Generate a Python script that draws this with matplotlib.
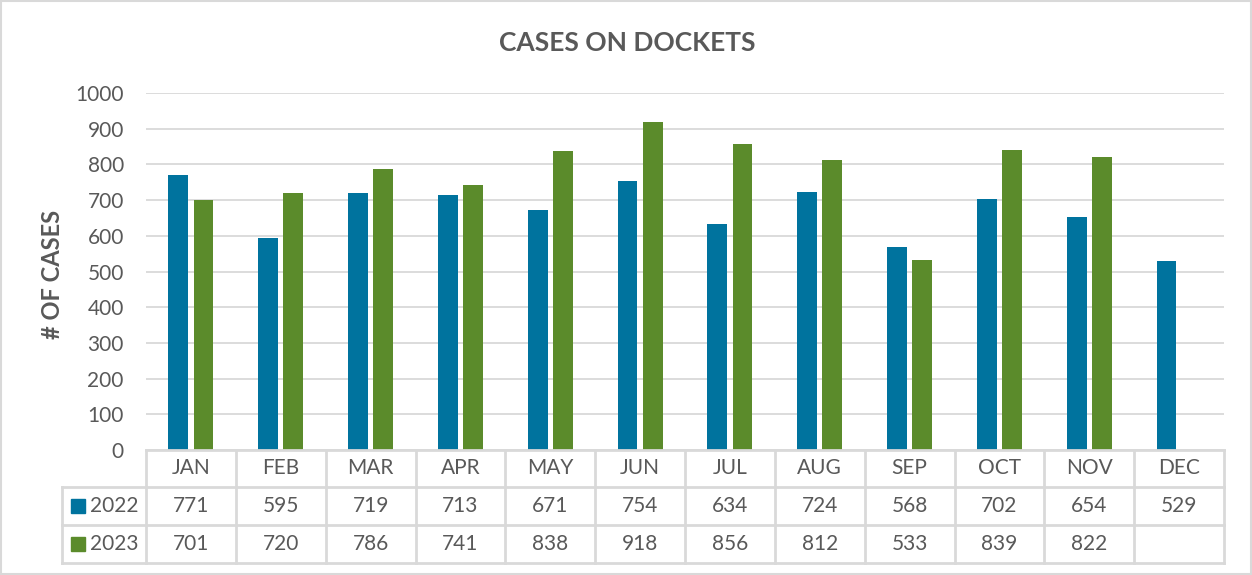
import numpy as np
import matplotlib
matplotlib.use('Agg')
from matplotlib import pyplot as plt
from matplotlib import patches, transforms

####
# Data
####
months = ['JAN', 'FEB', 'MAR', 'APR', 'MAY', 'JUN', 'JUL', 'AUG', 'SEP', 'OCT', 'NOV', 'DEC']
cases_2022 = [771, 595, 719, 713, 671, 754, 634, 724, 568, 702, 654, 529]
cases_2023 = [701, 720, 786, 741, 838, 918, 856, 812, 533, 839, 822, None]
series_names = ['2022', '2023']
yticks = [0, 100, 200, 300, 400, 500, 600, 700, 800, 900, 1000]

blue = '#00739E'
green = '#5B8B2B'
txt = '#595959'
grid_c = '#D9D9D9'

plt.rcParams['font.family'] = ['Lato', 'DejaVu Sans']

W, H = 1252, 575
fig = plt.figure(figsize=(W / 100, H / 100), dpi=100)

def fx(px):
    return px / W

def fy(py):
    return 1 - py / H

left, right, top, bottom = 146, 1224, 93, 450
ax = fig.add_axes([fx(left), fy(bottom), fx(right - left), fy(top) - fy(bottom)])

x = np.arange(len(months))
w = 0.22
v23 = np.array([np.nan if v is None else v for v in cases_2023], dtype=float)
ax.bar(x - 0.14, cases_2022, width=w, color=blue, zorder=3)
ax.bar(x + 0.14, v23, width=w, color=green, zorder=3)

ax.set_xlim(-0.5, len(months) - 0.5)
ax.set_ylim(0, 1000)
ax.set_yticks(yticks)
ax.set_yticklabels([str(t) for t in yticks], fontsize=15, color=txt)
ax.tick_params(axis='y', length=0, pad=16)
ax.set_xticks([])
ax.grid(axis='y', color=grid_c, linewidth=1.3, zorder=0)
for s in ax.spines.values():
    s.set_visible(False)

fig.text(fx(627), fy(43), 'CASES ON DOCKETS', ha='center', va='center',
         fontsize=19, fontweight='bold', color=txt)
fig.text(fx(52), fy(274), '# OF CASES', ha='center', va='center', rotation=90,
         fontsize=17, fontweight='bold', color=txt)

####
# Data table under the axis
####
row_y = [450, 487, 525, 563]
tab_left = 62
lw = 2
line_kw = dict(color=grid_c, linewidth=lw, transform=fig.transFigure, clip_on=False)
fig.add_artist(plt.Line2D([fx(left), fx(right)], [fy(row_y[0])] * 2, **line_kw))
for ry in row_y[1:]:
    fig.add_artist(plt.Line2D([fx(tab_left), fx(right)], [fy(ry)] * 2, **line_kw))
fig.add_artist(plt.Line2D([fx(tab_left)] * 2, [fy(row_y[1]), fy(row_y[3])], **line_kw))
col_w = (right - left) / len(months)
for i in range(len(months) + 1):
    cx = left + i * col_w
    fig.add_artist(plt.Line2D([fx(cx)] * 2, [fy(row_y[0]), fy(row_y[3])], **line_kw))

blend = transforms.blended_transform_factory(ax.transData, fig.transFigure)
rows = [cases_2022, cases_2023]
for i, m in enumerate(months):
    ax.text(i, fy((row_y[0] + row_y[1]) / 2), m, transform=blend, ha='center', va='center',
            fontsize=15, color=txt, clip_on=False)
    for r, vals in enumerate(rows):
        if vals[i] is None:
            continue
        ax.text(i, fy((row_y[r + 1] + row_y[r + 2]) / 2), str(vals[i]), transform=blend,
                ha='center', va='center', fontsize=15, color=txt, clip_on=False)

for r, (name, col) in enumerate(zip(series_names, [blue, green])):
    cy = (row_y[r + 1] + row_y[r + 2]) / 2
    fig.add_artist(patches.Rectangle((fx(71), fy(cy + 7)), fx(14), fy(cy - 7) - fy(cy + 7),
                                     color=col, transform=fig.transFigure))
    fig.text(fx(90), fy(cy), name, ha='left', va='center', fontsize=15, color=txt)

# outer chart border
fig.add_artist(patches.Rectangle((fx(1), fy(574)), fx(1250), fy(1) - fy(574), fill=False,
                                 edgecolor=grid_c, linewidth=1.5, transform=fig.transFigure))

fig.savefig('out.png', dpi=100)
